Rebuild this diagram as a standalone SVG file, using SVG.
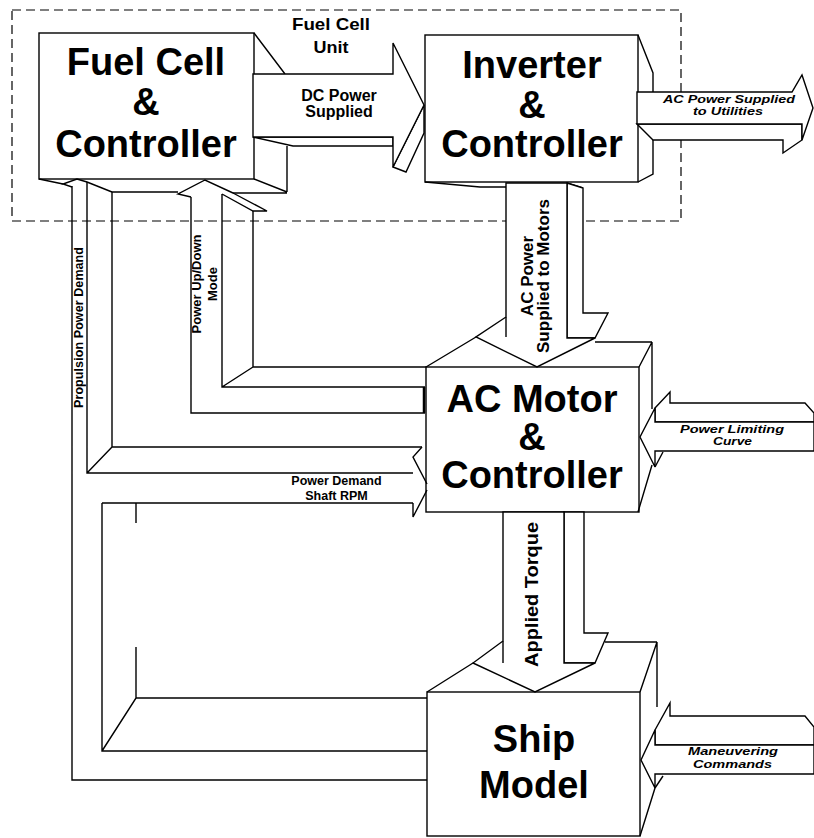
<svg xmlns="http://www.w3.org/2000/svg" width="814" height="838" viewBox="0 0 814 838">
<style>
.ln{fill:none;stroke:#000;stroke-width:1.4;stroke-linejoin:miter}
.sh{fill:#fff;stroke:#000;stroke-width:1.4;stroke-linejoin:miter}
.dash{fill:none;stroke:#000;stroke-width:1.2;stroke-dasharray:9 5}
.big{font-family:"Liberation Sans",Arial,sans-serif;font-weight:bold;font-size:38px;text-anchor:middle;fill:#000}
.lbl{font-family:"Liberation Sans",Arial,sans-serif;font-weight:bold;text-anchor:middle;fill:#000}
.ital{font-family:"Liberation Sans",Arial,sans-serif;font-weight:bold;font-style:italic;font-size:11px;text-anchor:middle;fill:#000}
</style>
<rect width="814" height="838" fill="#fff"/>
<rect id="fuel-cell-unit" class="dash" x="12" y="10" width="669" height="211"/>
<text class="lbl" font-size="17" x="331" y="30" textLength="78" lengthAdjust="spacingAndGlyphs">Fuel Cell</text>
<text class="lbl" font-size="17" x="331" y="53" textLength="35" lengthAdjust="spacingAndGlyphs">Unit</text>

<g id="fuel-cell">
<rect class="sh" x="39" y="33" width="215" height="146"/>
<path class="ln" d="M254,33 L285,74 M287,146 V192 M254,179 L287,192 M112,192 H178 M233,193 H287 M39,179 L63,184"/>
<text class="big" x="146" y="75">Fuel Cell</text>
<text class="big" x="146" y="115">&amp;</text>
<text class="big" x="146" y="157">Controller</text>
</g>

<g id="inverter">
<rect class="sh" x="425" y="35" width="213" height="147"/>
<path class="ln" d="M638,35 L653,73 V92 M653,140 V174 L638,182 M425,182 L480,187 H506 M567,183 L583,188"/>
<text class="big" x="532" y="78">Inverter</text>
<text class="big" x="532" y="118">&amp;</text>
<text class="big" x="532" y="157">Controller</text>
</g>

<g id="ac-motor">
<rect class="sh" x="426" y="367" width="213" height="145"/>
<path class="ln" d="M426,367 L476,337 M595,342 H652 M639,367 L652,342 V409 M652,465 L638,512"/>
<text class="big" x="532" y="412">AC Motor</text>
<text class="big" x="532" y="450">&amp;</text>
<text class="big" x="532" y="488">Controller</text>
</g>

<g id="ship-model">
<rect class="sh" x="427" y="692" width="213" height="144"/>
<path class="ln" d="M427,692 L473,663 M605,642 H657 M640,692 L657,642 V707 M655,788 L640,836"/>
<text class="big" x="534" y="752">Ship</text>
<text class="big" x="534" y="798">Model</text>
</g>

<g id="connectors">
<!-- DC power -->
<polygon class="sh" points="253,137 293,146 393,146 393,137"/>
<polygon class="sh" points="393,167 406,172 424,133 424,105"/>
<polygon class="sh" points="253,74 393,74 393,43 424,105 393,167 393,137 253,137"/>
<text class="lbl" font-size="16" x="339" y="101">DC Power</text>
<text class="lbl" font-size="16" x="339" y="117">Supplied</text>

<!-- AC power to utilities -->
<polygon class="sh" points="637,124 653,140 783,140 783,153 802,140 802,124"/>
<polygon class="sh" points="637,92 792,92 802,75 813,108 802,140 802,124 637,124"/>
<text class="ital" x="729" y="102.5" textLength="132" lengthAdjust="spacingAndGlyphs">AC Power Supplied</text>
<text class="ital" x="728" y="115" textLength="70" lengthAdjust="spacingAndGlyphs">to Utilities</text>

<!-- AC power to motors -->
<polygon class="sh" points="567,183 583,188 583,313 608,313 595,338 567,338"/>
<polygon class="sh" points="506,183 567,183 567,338 595,338 537,367 476,337 506,317"/>
<path class="ln" d="M506,317 V337"/>
<text class="lbl" font-size="17" transform="translate(533,276) rotate(-90)">AC Power</text>
<text class="lbl" font-size="17" transform="translate(549,276) rotate(-90)">Supplied to Motors</text>

<!-- Applied torque -->
<polygon class="sh" points="564,512 584,512 584,633 608,633 595,663 564,663"/>
<polygon class="sh" points="503,512 564,512 564,663 595,663 535,692 473,663 503,641"/>
<path class="ln" d="M503,641 V663"/>
<text class="lbl" font-size="18" transform="translate(538,594.5) rotate(-90)" textLength="145" lengthAdjust="spacingAndGlyphs">Applied Torque</text>

<!-- Power limiting curve -->
<polygon class="sh" points="655,408 670,392 670,403 805,403 814,413 814,422 655,422"/>
<polygon class="sh" points="814,422 655,422 655,408 640,437 655,467 655,451 814,451"/>
<path class="ln" d="M655,467 L663,452"/>
<text class="ital" x="732" y="432.5" textLength="104" lengthAdjust="spacingAndGlyphs">Power Limiting</text>
<text class="ital" x="732.5" y="445" textLength="39" lengthAdjust="spacingAndGlyphs">Curve</text>

<!-- Maneuvering commands -->
<polygon class="sh" points="655,730 670,703 670,716 805,716 814,727 814,745 655,745"/>
<polygon class="sh" points="814,745 655,745 655,730 641,760 655,788 655,774 814,774"/>
<path class="ln" d="M655,788 L663,776"/>
<text class="ital" x="733" y="755" textLength="90" lengthAdjust="spacingAndGlyphs">Maneuvering</text>
<text class="ital" x="732.5" y="768" textLength="79" lengthAdjust="spacingAndGlyphs">Commands</text>

<!-- Power Up/Down mode -->
<path class="ln" d="M191,197 V413 H425 M222,194 V387 H425 M253,211 V367 H426 M222,387 L253,367"/>
<path class="ln" d="M191,197 L178,194 L205,180 L233,193 M222,194 L253,211 L267,211 L233,193"/>
<path d="M424,387 V413" stroke="#000" stroke-width="2.5"/>
<text class="lbl" font-size="13" transform="translate(201,284) rotate(-90)">Power Up/Down</text>
<text class="lbl" font-size="13" transform="translate(217,284) rotate(-90)">Mode</text>

<!-- Propulsion power demand / Power demand shaft RPM -->
<path class="ln" d="M72,186 V780 H427 M87,182 V473 H413 M112,192 V447 H422 M87,473 L112,447"/>
<path class="ln" d="M72,187 L63,184 L77,179 L87,182 L112,192"/>
<path class="ln" d="M422,447 L413,457 L427,484 M413,503 V517 L427,490"/>
<path class="ln" d="M102,503 H413 M102,503 V751 H427 M102,751 L136,698 H427 M136,503 V523 M136,647 V698"/>
<text class="lbl" font-size="12.5" transform="translate(83,327.5) rotate(-90)" textLength="161" lengthAdjust="spacing">Propulsion  Power  Demand</text>
<text class="lbl" font-size="12.5" x="336.5" y="485">Power Demand</text>
<text class="lbl" font-size="12.5" x="336.5" y="500">Shaft RPM</text>
</g>
</svg>
